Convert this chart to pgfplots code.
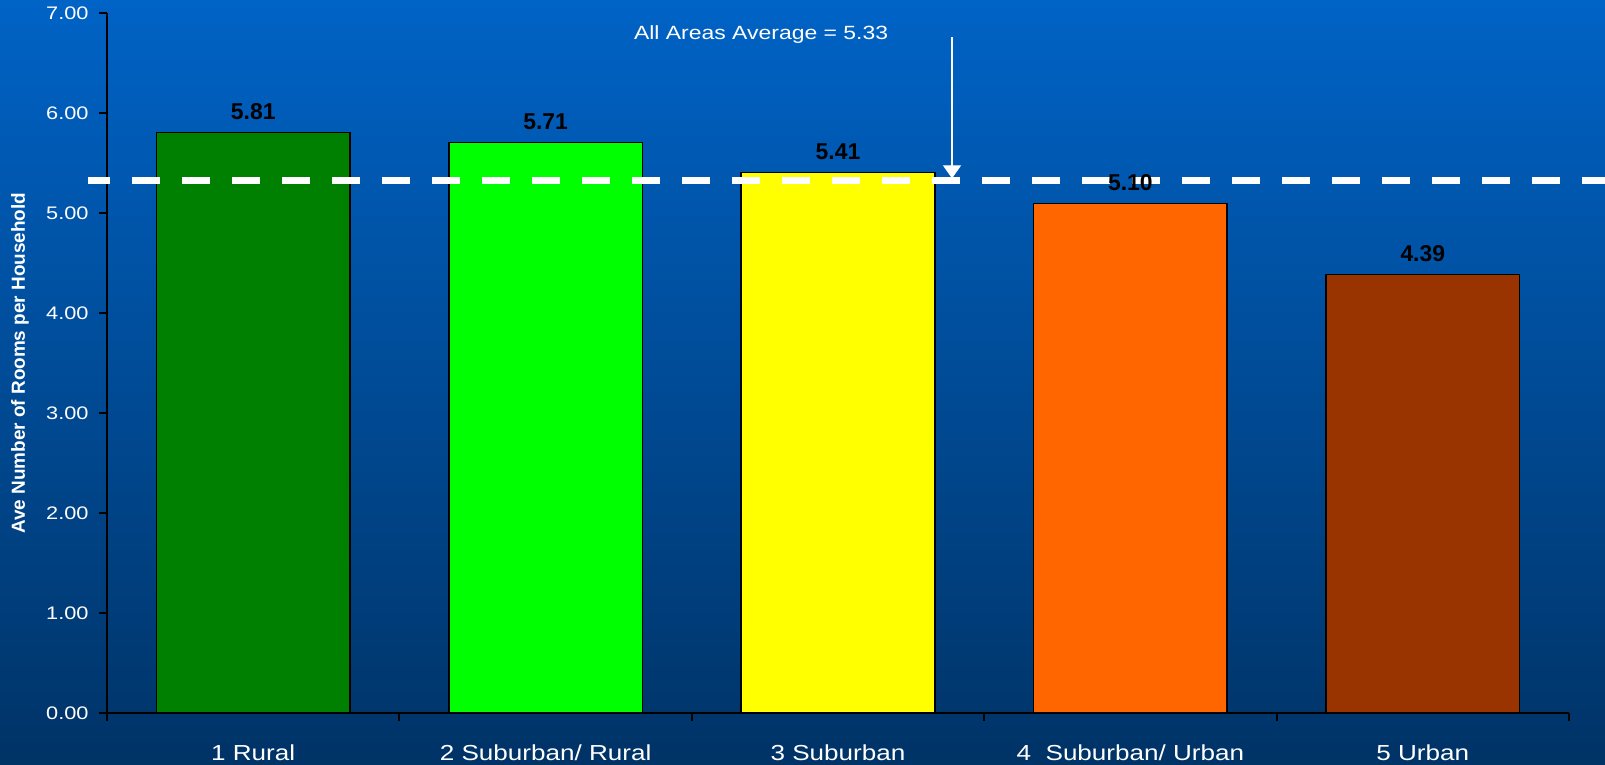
\documentclass[border=0pt]{standalone}
\usepackage{fontspec}
\setmainfont{Liberation Sans}
\newfontfamily\wide{Liberation Sans}[FakeStretch=1.2]
\usepackage{pgfplots}
\pgfplotsset{compat=1.18}
\usetikzlibrary{arrows.meta}
\definecolor{bgtop}{RGB}{0,99,198}
\definecolor{bgbot}{RGB}{0,51,102}
\definecolor{c1}{RGB}{0,128,0}
\definecolor{c2}{RGB}{0,255,0}
\definecolor{c3}{RGB}{255,255,0}
\definecolor{c4}{RGB}{255,102,0}
\definecolor{c5}{RGB}{153,51,0}
\pgfplotsset{
  mybar/.style={ybar, bar width=96.75bp, bar shift=0pt, fill=#1, draw=black, line width=0.75bp,
    nodes near coords={\pgfmathprintnumber[fixed,fixed zerofill,precision=2,assume math mode=true]{\pgfplotspointmeta}},
    every node near coord/.append style={font=\bfseries\fontsize{11.5}{12}\selectfont, text=black, anchor=base, inner sep=0pt, yshift=6.5bp}},
}
\begin{document}
\begin{tikzpicture}
\fill[top color=bgtop, bottom color=bgbot] (-53.5bp,-26bp) rectangle (749bp,356.5bp);
\begin{axis}[
  at={(0,0)}, anchor=south west,
  scale only axis, width=731bp, height=349.75bp,
  xmin=-0.5, xmax=4.5, ymin=0, ymax=7,
  clip=false,
  axis x line*=bottom, axis y line*=left,
  axis line style={black, line width=1bp},
  tick align=outside, major tick length=4bp,
  every tick/.style={black, line width=1bp},
  xtick={-0.5,0.5,1.5,2.5,3.5,4.5},
  xticklabels={,,,,,},
  extra x ticks={0,1,2,3,4},
  extra x tick labels={1 Rural, 2 Suburban/ Rural, 3 Suburban, 4~ Suburban/ Urban, 5 Urban},
  extra x tick style={major tick length=0pt, xticklabel style={font=\wide\fontsize{10.9}{12}\selectfont, text=white, anchor=base, yshift=-23.5bp}},
  ytick={0,1,2,3,4,5,6,7},
  yticklabel style={font=\wide\fontsize{9.1}{10}\selectfont, text=white, inner sep=0pt, xshift=-5bp,
    /pgf/number format/.cd, fixed, fixed zerofill, precision=2, assume math mode=true},
  ylabel={Ave Number of Rooms per Household},
  every axis y label/.style={at={(axis description cs:-0.0595,0.5)}, rotate=90, anchor=center,
    font=\bfseries\fontsize{9.5}{10}\selectfont, text=white},
]
\addplot[mybar=c1] coordinates {(0,5.81)};
\addplot[mybar=c2] coordinates {(1,5.71)};
\addplot[mybar=c3] coordinates {(2,5.41)};
\addplot[mybar=c4] coordinates {(3,5.10)};
\addplot[mybar=c5] coordinates {(4,4.39)};
\addplot[white, line width=3.85bp, dash pattern=on 14bp off 11bp, dash phase=3bp] coordinates {(-0.565,5.33) (4.75,5.33)};
\node[font=\wide\fontsize{9.6}{10}\selectfont, text=white, anchor=center] at (axis cs:1.737,6.785) {All Areas Average = 5.33};
\draw[white, line width=0.6bp, -{Triangle[width=9bp,length=6.5bp]}] (axis cs:2.39,6.76) -- (axis cs:2.39,5.35);
\end{axis}
\pgfresetboundingbox
\path[use as bounding box] (-53.5bp,-26bp) rectangle (749bp,356.5bp);
\end{tikzpicture}
\end{document}
